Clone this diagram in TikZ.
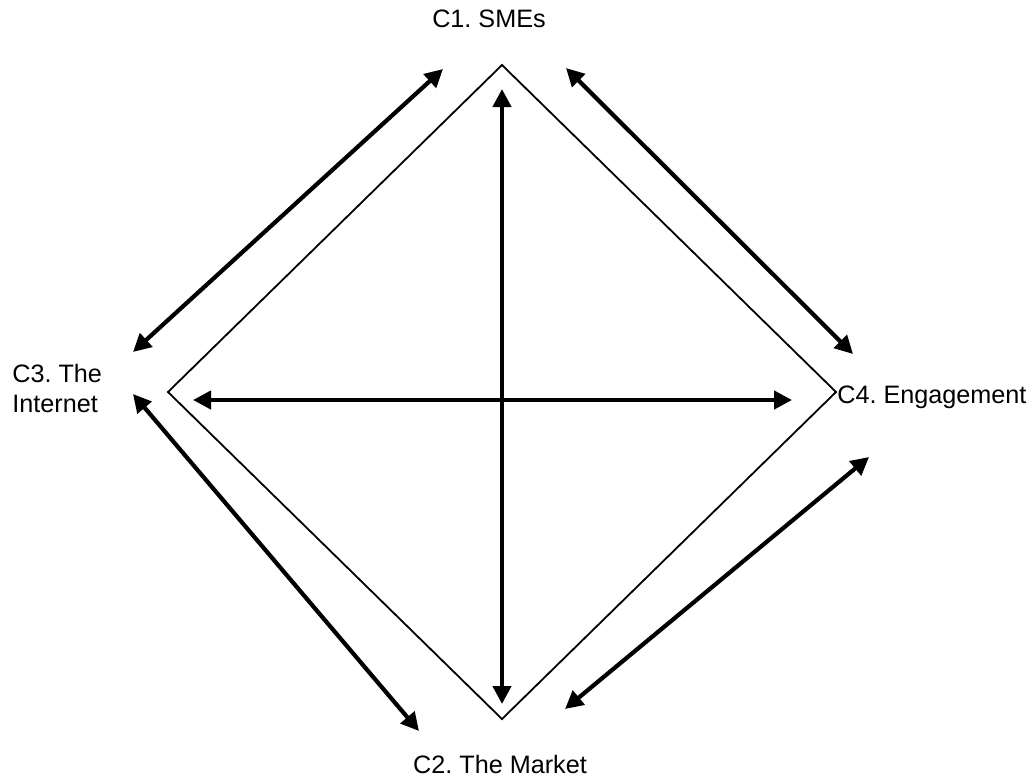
\documentclass[tikz,border=0pt]{standalone}
\usepackage{fontspec}
\setmainfont{Liberation Sans}
\usetikzlibrary{arrows.meta}
\frenchspacing
\begin{document}
\begin{tikzpicture}[x=0.5pt,y=-0.5pt,
  dbl/.style={line width=2.1pt,{Triangle[length=9pt,width=9pt]}-{Triangle[length=9pt,width=9pt]}},
  frame/.style={line width=0.9pt,line join=miter},
  lbl/.style={font=\fontsize{12.6}{15}\selectfont\frenchspacing,inner sep=0pt}]
\useasboundingbox (0,0) rectangle (1034,778);
% diamond vertices
\coordinate (T) at (502,65);
\coordinate (R) at (836,392);
\coordinate (B) at (502,719);
\coordinate (L) at (168,392);
\draw[frame] (T)--(R)--(B)--(L)--cycle;
% inner arrows
\coordinate (v1) at (502,89);
\coordinate (v2) at (502,704);
\coordinate (h1) at (193,400);
\coordinate (h2) at (792,400);
\draw[dbl] (v1)--(v2);
\draw[dbl] (h1)--(h2);
% outer arrows
\coordinate (a1) at (133,352);
\coordinate (a2) at (443,69);
\coordinate (b1) at (566,68);
\coordinate (b2) at (853,354);
\coordinate (c1) at (133,394);
\coordinate (c2) at (419,731);
\coordinate (d1) at (565,709);
\coordinate (d2) at (869,457);
\draw[dbl] (a1)--(a2);
\draw[dbl] (b1)--(b2);
\draw[dbl] (c1)--(c2);
\draw[dbl] (d1)--(d2);
% labels
\node[lbl,anchor=base] (n1) at (489,27) {C1. SMEs};
\node[lbl,anchor=base] (n2) at (500,773) {C2. The Market};
\node[lbl,anchor=base west] (n3a) at (12,382) {C3. The};
\node[lbl,anchor=base west] (n3b) at (12,412) {Internet};
\node[lbl,anchor=base west] (n4) at (837,403) {C4. Engagement};
\end{tikzpicture}
\end{document}
